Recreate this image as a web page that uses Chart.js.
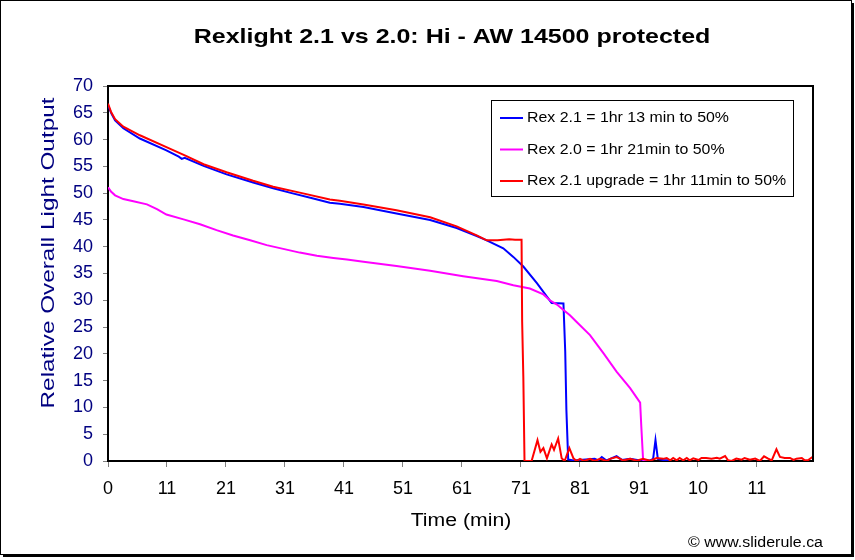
<!DOCTYPE html>
<html><head><meta charset="utf-8">
<script src="https://cdn.jsdelivr.net/npm/chart.js@4/dist/chart.umd.min.js"></script>
<style>
html,body{margin:0;padding:0;background:#fff;}
canvas{display:block;}
</style></head><body>
<canvas id="c" width="855" height="560"></canvas>
<script>
const chartTitle = "Rexlight 2.1 vs 2.0: Hi - AW 14500 protected";
const xAxisTitle = "Time (min)";
const yAxisTitle = "Relative Overall Light Output";
const creditText = "© www.sliderule.ca";
const seriesNames = ["Rex 2.1 = 1hr 13 min to 50%", "Rex 2.0 = 1hr 21min to 50%", "Rex 2.1 upgrade = 1hr 11min to 50%"];
const seriesColors = ["#0000FF", "#FF00FF", "#FF0000"];
const tickLabels = ["0","11","21","31","41","51","61","71","81","91","10","11"];
const yTicks = [0,5,10,15,20,25,30,35,40,45,50,55,60,65,70];

const rex21X = [0,0.6,1.2,2.6,5.4,9.9,12.0,12.5,13.0,16.2,20.1,24.6,28.0,30.8,34.8,37.6,39.3,43.3,48.9,54.6,59.1,62.5,64.2,67.0,68.7,70.4,72.7,74.4,75.2,77.2,77.5,77.7,78.0,78.9,82.5,83.1,83.7,84.5,86.2,87.1,88.5,90.2,91.9,92.4,92.8,93.2,94.1,95.3];
const rex21Y = [66.4,64.8,63.6,62.1,60.2,58.0,56.8,56.4,56.6,55.1,53.5,52.0,50.9,50.1,49.0,48.2,48.0,47.4,46.2,45.0,43.5,42.0,41.2,39.7,38.1,36.3,33.2,30.7,29.5,29.4,20.5,9.5,0.3,0.1,0.4,0.1,0.75,0.1,0.9,0.2,0.4,0.1,0.1,0.4,3.9,0.4,0.2,0.1];

const rex20X = [0,0.5,1.2,2.6,4.3,6.6,8.3,9.9,12.8,15.6,18.4,21.2,24.1,26.9,29.7,32.5,35.4,38.2,40.5,43.3,48.9,54.6,60.2,65.9,68.7,71.5,73.8,74.9,76.1,77.2,78.3,79.4,81.7,84.0,86.2,88.5,90.2,90.4,90.7,91.5];
const rex20Y = [51.1,50.3,49.6,48.9,48.5,47.9,47.0,46.0,45.1,44.2,43.1,42.1,41.2,40.3,39.6,38.9,38.3,37.9,37.6,37.2,36.4,35.5,34.5,33.6,32.8,32.2,31.1,30.0,29.2,28.2,27.2,26.0,23.5,20.1,16.7,13.6,10.9,6.4,0.2,0.1];

const rexUpX = [0,0.5,1.2,2.6,5.4,9.9,13.3,16.2,20.1,24.6,28.0,32.5,37.6,39.3,43.3,48.9,54.6,59.1,62.5,64.2,66.0,68.0,69.0,70.1,70.2,70.4,70.6,71.8,72.8,73.3,73.8,74.4,75.2,75.6,76.3,76.9,77.4,78.2,78.9,79.4,80.0,80.7,81.7,82.5,83.4,84.5,85.1,86.2,87.3,88.5,89.6,90.7,91.9,93.0,94.1,94.7,95.3,95.8,96.4,96.9,97.5,98.1,98.6,99.2,100.1,100.6,101.4,102.3,103.2,103.7,104.6,105.1,105.7,106.5,107.4,107.9,108.8,109.7,110.5,111.2,111.9,112.5,113.3,113.9,114.7,115.6,116.2,116.7,117.6,118.1,118.7,119.4];
const rexUpY = [66.7,65.2,63.8,62.4,60.8,58.6,56.9,55.4,53.9,52.3,51.2,50.1,48.8,48.6,47.9,46.8,45.5,43.8,42.1,41.2,41.2,41.4,41.3,41.3,26,15.7,0,0,3.9,1.7,2.4,0.5,3.1,2.1,4.2,0.5,0,2.4,0.5,0,0.4,0,0.4,0,0.4,0,0.4,0.75,0.1,0.4,0.05,0.4,0.05,0.55,0.4,0.56,0.12,0.56,0.12,0.56,0.12,0.56,0.12,0.5,0.19,0.56,0.56,0.44,0.62,0.44,0.93,0.12,0,0.44,0.25,0.56,0.25,0.44,0,0.87,0.44,0.12,2.18,0.75,0.56,0.56,0.19,0.44,0.56,0.12,0.19,0.75];

const FONT = "'Liberation Sans', Arial, sans-serif";
const toPts = (xs, ys) => xs.map((x, i) => ({x: x, y: ys[i]}));

function drawText(ctx, text, x, y, font, color, align, stretch, rotate) {
  ctx.save();
  ctx.translate(x, y);
  if (rotate) ctx.rotate(-Math.PI / 2);
  ctx.scale(stretch, 1);
  ctx.font = font;
  ctx.fillStyle = color;
  ctx.textAlign = align;
  ctx.textBaseline = 'middle';
  ctx.fillText(text, 0, 0);
  ctx.restore();
}

const decor = {
  id: 'decor',
  beforeDraw(chart) {
    const ctx = chart.ctx;
    ctx.save();
    ctx.fillStyle = '#fff';
    ctx.fillRect(0, 0, chart.width, chart.height);
    ctx.restore();
  },
  afterDraw(chart) {
    const ctx = chart.ctx;
    const a = chart.chartArea;
    ctx.save();
    ctx.strokeStyle = '#000';
    ctx.lineWidth = 2;
    ctx.beginPath();
    ctx.moveTo(a.left, a.top);
    ctx.lineTo(a.right, a.top);
    ctx.lineTo(a.right, a.bottom);
    ctx.stroke();
    ctx.lineWidth = 1;
    ctx.strokeRect(0.5, 0.5, 851, 554);
    ctx.fillStyle = '#000';
    ctx.fillRect(852, 3, 2, 554);
    ctx.fillRect(3, 555, 851, 2);
    drawText(ctx, chartTitle, 452, 37, 'bold 21px ' + FONT, '#000', 'center', 1.19, false);
    drawText(ctx, yAxisTitle, 49, 253, '19px ' + FONT, '#000080', 'center', 1.28, true);
    drawText(ctx, xAxisTitle, 461, 521, '18px ' + FONT, '#000', 'center', 1.18, false);
    drawText(ctx, creditText, 823, 543, '14px ' + FONT, '#000', 'right', 1.14, false);
    const lx = 491.5, ly = 100.5, lw = 302, lh = 96;
    ctx.fillStyle = '#fff';
    ctx.fillRect(lx, ly, lw, lh);
    ctx.strokeStyle = '#000';
    ctx.lineWidth = 1;
    ctx.strokeRect(lx, ly, lw, lh);
    chart.data.datasets.forEach((ds, i) => {
      const yy = 118 + i * 31.5;
      ctx.strokeStyle = ds.borderColor;
      ctx.lineWidth = 2;
      ctx.beginPath();
      ctx.moveTo(500, yy);
      ctx.lineTo(523, yy);
      ctx.stroke();
      drawText(ctx, ds.label, 527, yy, '15px ' + FONT, '#000', 'left', 1.06, false);
    });
    ctx.restore();
  }
};

new Chart(document.getElementById('c'), {
  type: 'line',
  data: {
    datasets: [
      {label: seriesNames[0], data: toPts(rex21X, rex21Y), borderColor: seriesColors[0], order: 2},
      {label: seriesNames[1], data: toPts(rex20X, rex20Y), borderColor: seriesColors[1], order: 1},
      {label: seriesNames[2], data: toPts(rexUpX, rexUpY), borderColor: seriesColors[2], order: 0}
    ]
  },
  options: {
    responsive: false,
    animation: false,
    devicePixelRatio: 1,
    layout: {padding: {left: 0, top: 86, right: 42, bottom: 19}},
    elements: {
      line: {borderWidth: 2, tension: 0, fill: false},
      point: {radius: 0, hoverRadius: 0}
    },
    plugins: {legend: {display: false}, title: {display: false}, tooltip: {enabled: false}},
    events: [],
    scales: {
      x: {
        type: 'linear',
        min: 0, max: 119.5,
        afterFit: s => { s.height = 80; },
        afterBuildTicks: s => { s.ticks = tickLabels.map((t, i) => ({value: i * 10})); },
        ticks: {
          autoSkip: false, maxRotation: 0, padding: 11,
          color: '#000', font: {family: FONT, size: 18},
          callback: (v, i) => tickLabels[i]
        },
        grid: {drawOnChartArea: false, tickLength: 6, color: '#808080', tickWidth: 1},
        border: {display: true, color: '#000', width: 2}
      },
      y: {
        type: 'linear',
        min: 0, max: 70,
        afterFit: s => { s.width = 108; },
        afterBuildTicks: s => { s.ticks = yTicks.map(v => ({value: v})); },
        ticks: {
          autoSkip: false, padding: 10,
          color: '#000080', font: {family: FONT, size: 18},
          callback: v => String(v)
        },
        grid: {drawOnChartArea: false, tickLength: 5, color: '#808080', tickWidth: 1},
        border: {display: true, color: '#000', width: 2}
      }
    }
  },
  plugins: [decor]
});
</script>
</body></html>
